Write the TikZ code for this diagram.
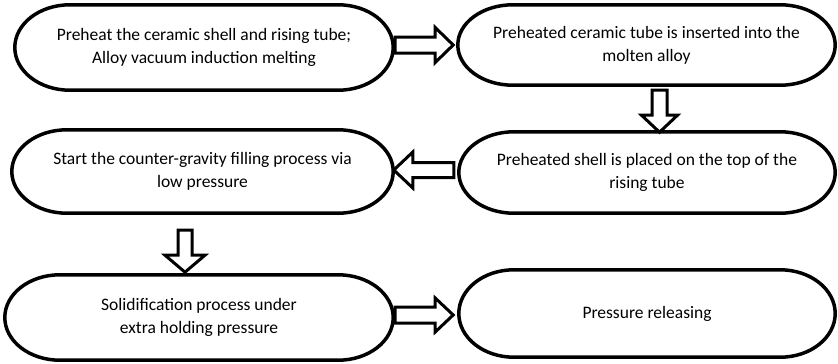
\documentclass[tikz,border=0pt]{standalone}
\usepackage{fontspec}
\setmainfont{Carlito}
\usetikzlibrary{calc}
\begin{document}
\begin{tikzpicture}[x=1pt,y=1pt,
  stage/.style={inner sep=0pt, align=center, font=\fontsize{17.5}{23}\selectfont},
  outline/.style={draw=black, line width=3.5pt, line join=round},
  arrowline/.style={draw=black, fill=white, line width=3pt, line join=miter},
  % hollow block arrow: length / head length / shaft half width / head half width
  pics/blockarrow/.style args={#1/#2/#3/#4}{code={
    \draw[arrowline] (0,-#3) -- (#1-#2,-#3) -- (#1-#2,-#4) -- (#1,0)
      -- (#1-#2,#4) -- (#1-#2,#3) -- (0,#3) -- cycle;}}]
\useasboundingbox (0,0) rectangle (838,-364);

% process stages
\node[stage, minimum width=378pt, minimum height=85pt] (b1) at (204,-47.5)
  {Preheat the ceramic shell and rising tube;\\Alloy vacuum induction melting};
\node[stage, minimum width=377pt, minimum height=80pt] (b2) at (646.5,-45)
  {Preheated ceramic tube is inserted into the\\molten alloy};
\node[stage, minimum width=376pt, minimum height=81pt] (b3) at (647,-172.5)
  {Preheated shell is placed on the top of the\\rising tube};
\node[stage, minimum width=381pt, minimum height=83pt] (b4) at (202.5,-171.5)
  {Start the counter-gravity filling process via\\low pressure};
\node[stage, minimum width=388pt, minimum height=85pt] (b5) at (199,-317.5)
  {Solidification process under\\extra holding pressure};
\node[stage, minimum width=376pt, minimum height=87pt] (b6) at (647,-313.5)
  {Pressure releasing};

% rounded outlines with elliptical ends
\foreach \b in {b1,b2,b3,b4,b5,b6}{
  \draw[outline] let \p1=(\b.north west), \p2=(\b.south east),
      \n1={(\y1-\y2)/2} in
    (\x1+55pt,\y1) -- (\x2-55pt,\y1)
    arc[start angle=90, end angle=-90, x radius=55pt, y radius=\n1]
    -- (\x1+55pt,\y2)
    arc[start angle=270, end angle=90, x radius=55pt, y radius=\n1]
    -- cycle;
}

% block arrows between stages
\pic at ($(b1.east)+(2,2.5)$) {blockarrow=58/18/8/17.5};
\pic[rotate=-90] at ($(b2.south)+(13,-5)$) {blockarrow=42/17/7.5/18};
\pic[rotate=180] at ($(b3.west)+(-5,2.5)$) {blockarrow=60/19/7.5/18};
\pic[rotate=-90] at ($(b4.south)+(-17.5,-17)$) {blockarrow=42/17/7/20};
\pic at ($(b5.east)+(2,2.5)$) {blockarrow=58/18/8/17};
\end{tikzpicture}
\end{document}
